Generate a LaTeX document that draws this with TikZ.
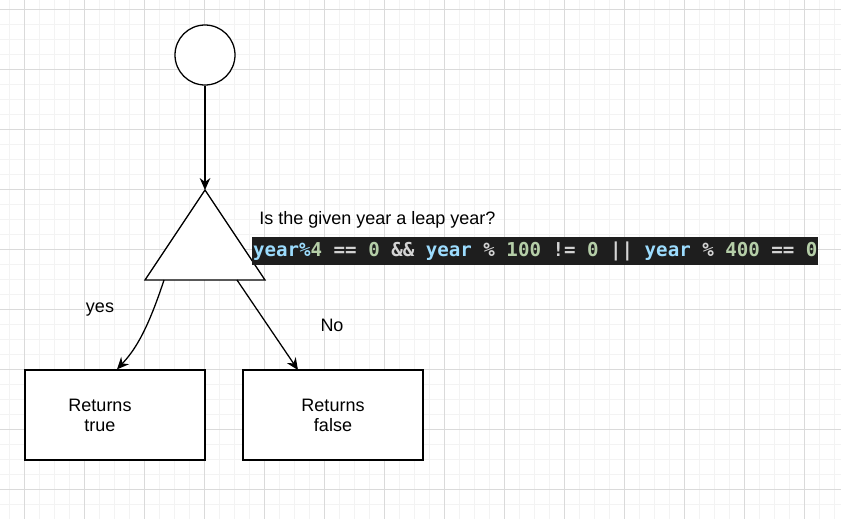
\documentclass[tikz,border=0pt]{standalone}
\usepackage{fontspec}
\setmainfont{Liberation Sans}
\setmonofont{DejaVu Sans Mono}
\usetikzlibrary{arrows.meta}

\definecolor{gridminor}{HTML}{F3F3F3}
\definecolor{gridmajor}{HTML}{DADADA}
\definecolor{codebg}{HTML}{1E1E1E}
\definecolor{codevar}{HTML}{9CDCFE}
\definecolor{codenum}{HTML}{B5CEA8}
\definecolor{codeop}{HTML}{D4D4D4}
% colour helpers for the test expression
\newcommand\cvar[1]{\textcolor{codevar}{#1}}
\newcommand\cnum[1]{\textcolor{codenum}{#1}}
\newcommand\cop[1]{\textcolor{codeop}{#1}}

\begin{document}
\begin{tikzpicture}[x=0.75pt,y=-0.75pt,
  flowline/.style={line width=0.95pt},
  flowarrow/.style={flowline,-{Stealth[length=9pt,width=8pt,inset=3pt]}},
  plaintext/.style={font=\fontsize{13.5}{15}\selectfont,inner sep=0pt,align=center},
  retbox/.style={draw,flowline,fill=white,minimum width=135pt,minimum height=67.5pt,plaintext}]
% the picture is measured in pixels of the reference, y runs downwards
\useasboundingbox (0,0) rectangle (841,519);
% background grid, fine lines every 15px and stronger ones every 60px
\foreach \x in {9.5,24.5,...,841} \draw[gridminor,line width=0.75pt] (\x,0) -- (\x,519);
\foreach \y in {9.5,24.5,...,519} \draw[gridminor,line width=0.75pt] (0,\y) -- (841,\y);
\foreach \x in {24.5,84.5,...,841} \draw[gridmajor,line width=0.75pt] (\x,0) -- (\x,519);
\foreach \y in {9.5,69.5,...,519} \draw[gridmajor,line width=0.75pt] (0,\y) -- (841,\y);
% start of the flow
\node[draw,flowline,fill=white,circle,minimum size=45pt,inner sep=0pt] (start) at (205,55) {};
% the decision triangle, drawn from its corners
\coordinate (apex) at (205,190);
\coordinate (baseL) at (145,280);
\coordinate (baseR) at (265,280);
\draw[flowline,fill=white] (apex) -- (baseR) -- (baseL) -- cycle;
% where the two branches leave the base
\coordinate (yesstart) at (164,280);
\coordinate (nostart) at (237,280);
% the question and the test itself
\node[plaintext,anchor=west] (question) at (259,220) {Is the given year a leap year?};
\node[anchor=west,fill=codebg,minimum height=21pt,inner xsep=0.6pt,inner ysep=0pt,
  font=\ttfamily\bfseries\fontsize{14.35}{17}\selectfont] (test) at (252,251)
  {\cvar{year\%}\cnum{4} \cop{==} \cnum{0} \cop{\&\&} \cvar{year} \cop{\%} \cnum{100} \cop{!=} \cnum{0} \cop{||} \cvar{year} \cop{\%} \cnum{400} \cop{==} \cnum{0}};
% the two outcomes
\node[retbox] (trueBox) at (115,415) {};
\node[plaintext] (trueText) at (100,415) {Returns\\true};
\node[retbox] (falseBox) at (333,415) {Returns\\false};
\coordinate (noend) at (298,370);
% the connectors
\draw[flowarrow] (start) -- (apex);
\draw[flowarrow] (yesstart) .. controls (146,335) and (133,352) .. ([xshift=1.5pt]trueBox.north);
\draw[flowarrow] (nostart) -- (noend);
% branch labels
\node[plaintext] (yes) at (100,310) {yes};
\node[plaintext] (no) at (332,325) {No};
\end{tikzpicture}
\end{document}
